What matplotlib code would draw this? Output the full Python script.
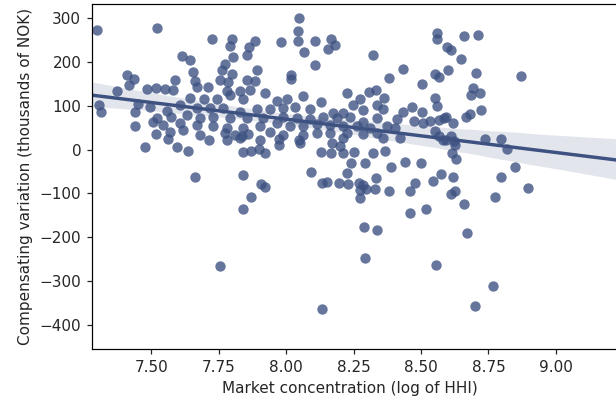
import matplotlib
matplotlib.use("Agg")
import matplotlib.pyplot as plt
import seaborn as sns
import numpy as np

# Market concentration (log of HHI) and compensating variation (thousands of NOK)
hhi_log = [
    7.300, 7.522, 7.725, 7.800, 7.791, 7.884, 7.861, 7.802, 7.854, 7.614, 7.644, 7.772, 7.762, 7.800,
    7.656, 7.891, 7.411, 7.436, 7.416, 7.589, 7.663, 7.668, 7.710, 7.372, 7.755, 7.784, 7.854, 7.884,
    7.305, 7.315, 7.450,
    8.049, 8.044, 8.044, 7.980, 8.108, 8.168, 8.180, 8.155, 8.066, 8.108, 8.321, 8.432, 8.380, 8.502,
    8.553, 8.559, 8.559, 8.019, 8.019, 8.465, 8.504, 8.553, 8.559,
    8.660, 8.712, 8.596, 8.613, 8.648, 8.600, 8.566, 8.704, 8.872, 8.694, 8.685, 8.719, 8.724, 8.680,
    8.667, 8.591,
    7.663, 7.772, 7.809, 7.836, 7.859, 7.840, 7.870, 7.900, 7.920, 7.841, 7.906, 7.923, 7.871, 7.841,
    7.755,
    8.131, 8.165, 8.212, 8.252, 8.170, 8.200, 8.091, 8.240, 8.227, 8.292, 8.323, 8.368, 8.440, 8.499,
    8.388, 8.334, 8.133, 8.151, 8.195, 8.230, 8.269, 8.284, 8.296, 8.274, 8.274, 8.331, 8.383, 8.460,
    8.477, 8.546, 8.460, 8.517, 8.288, 8.338, 8.474, 8.507, 8.534, 8.553,
    8.292, 8.556, 8.133, 8.672, 8.766, 8.702,
    8.568, 8.586, 8.618, 8.568, 8.613, 8.623, 8.625, 8.615, 8.630, 8.581, 8.593, 8.737, 8.796, 8.818,
    8.848, 8.796, 8.895, 8.776, 8.660, 8.611, 8.625, 8.573, 8.618,
    7.483, 7.517, 7.552, 7.579, 7.779, 7.829, 7.865, 7.920, 8.227, 8.274, 8.306, 8.333, 8.363,
    7.643, 7.695, 7.745, 7.792, 7.841, 7.965, 8.002, 8.061, 8.130, 8.247, 8.336, 8.435,
    7.495, 7.557, 7.606, 7.668, 7.718, 7.767, 7.829, 7.891, 7.940, 7.990, 8.034, 8.088, 8.175, 8.212,
    8.286, 8.360,
    7.438, 7.522, 7.574, 7.631, 7.681, 7.730, 7.792, 7.854, 7.915, 7.990, 8.039, 8.088, 8.138, 8.187,
    8.237, 8.286, 8.336, 8.410,
    7.438, 7.508, 7.545, 7.606, 7.668, 7.730, 7.779, 7.841, 7.903, 7.965, 8.014, 8.064, 8.113, 8.163,
    8.212, 8.261, 8.311, 8.373, 8.405,
    7.517, 7.569, 7.619, 7.681, 7.940, 7.990, 8.064, 8.113, 8.163, 8.224, 8.286, 8.336,
    7.562, 7.715, 7.779, 7.829, 7.903, 7.972, 8.049, 8.212, 8.360, 8.422,
    7.475, 7.594, 7.637, 7.972, 8.051,
]
comp_var = [
    274, 277, 253, 253, 237, 248, 234, 211, 216, 213, 205, 196, 181, 173,
    178, 181, 170, 162, 147, 160, 158, 143, 143, 134, 160, 155, 160, 157,
    102, 86, 105,
    300, 271, 248, 245, 248, 254, 240, 231, 224, 193, 216, 185, 164, 150,
    173, 266, 253, 170, 161, 98, 86, 117, 100,
    259, 263, 234, 227, 208, 182, 167, 176, 169, 141, 124, 129, 91, 82,
    75, 74,
    -62, 39, 33, 30, 36, -5, -4, 1, -7, -57, -78, -85, -109, -135,
    -266,
    -5, -8, -8, -5, 15, 9, -51, -31, -54, -31, -7, -4, -28, -31,
    -40, -66, -76, -74, -76, -78, -76, -81, -89, -92, -110, -91, -94, -94,
    -76, -72, -146, -136, -177, -184, 66, 60, 66, 42,
    -248, -263, -365, -190, -313, -358,
    68, 72, 60, 31, 31, 19, 10, -7, -22, 22, 21, 24, 24, 1,
    -40, -62, -88, -109, -124, -101, -94, -56, -62,
    139, 140, 138, 137, 134, 133, 136, 130, 130, 116, 131, 137, 118,
    118, 115, 115, 125, 115, 111, 115, 122, 110, 101, 102, 87,
    98, 89, 102, 95, 95, 95, 87, 92, 92, 96, 98, 92, 84, 84,
    90, 93,
    87, 72, 75, 79, 72, 75, 72, 72, 73, 75, 72, 69, 75, 72,
    75, 64, 72, 70,
    55, 63, 57, 60, 57, 53, 49, 49, 55, 60, 53, 53, 58, 57,
    55, 53, 49, 53, 49,
    35, 41, 44, 34, 41, 34, 34, 37, 37, 38, 35, 38,
    25, 23, 21, 26, 21, 24, 21, 26, 26, 26,
    5, 5, -3, 11, 14,
]

x_ticks = [7.50, 7.75, 8.00, 8.25, 8.50, 8.75, 9.00]
y_ticks = [-400, -300, -200, -100, 0, 100, 200, 300]

DPI = 110
fig = plt.figure(figsize=(616 / DPI, 402 / DPI), dpi=DPI)
ax = fig.add_axes([92 / 616, 1 - 349 / 402, 528 / 616, 345 / 402])
ax.set_xlim(7.28, 9.238)
ax.set_ylim(-456, 333)

sns.regplot(x=np.array(hhi_log), y=np.array(comp_var), ax=ax, color="#3e5282",
            scatter_kws=dict(s=46, linewidths=0), truncate=False, seed=3)

ax.set_xlim(7.28, 9.238)
ax.set_ylim(-456, 333)
ax.set_xticks(x_ticks)
ax.set_xticklabels([f"{t:.2f}" for t in x_ticks])
ax.set_yticks(y_ticks)
ax.tick_params(colors="#222222", labelcolor="#262626")
ax.set_xlabel("Market concentration (log of HHI)", color="#262626")
ax.set_ylabel("Compensating variation (thousands of NOK)", color="#262626")
ax.xaxis.label.set_x((350 - 92) / 528)

fig.savefig("out.png", dpi=DPI)
